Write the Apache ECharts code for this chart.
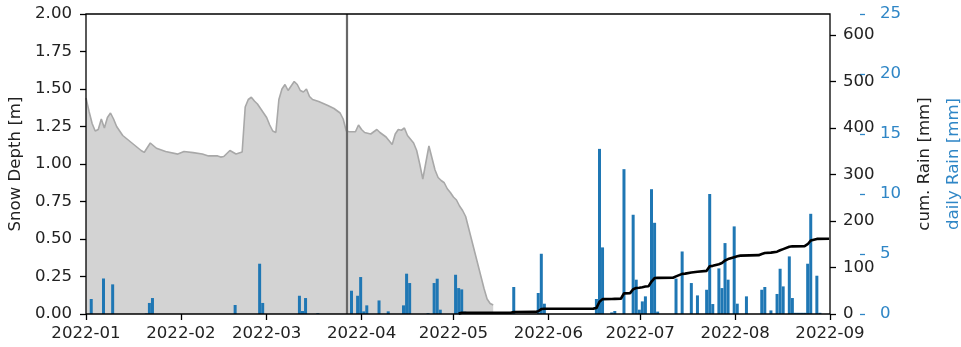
<!DOCTYPE html>
<html>
<head>
<meta charset="utf-8">
<script src="https://cdn.jsdelivr.net/npm/echarts@6/dist/echarts.min.js"></script>
<style>
html,body{margin:0;padding:0;background:#fff;}
#chart{width:961px;height:347px;}
</style>
</head>
<body>
<div id="chart"></div>
<script>
// ---------- DATA ----------
const monthTicks = ['2022-01-01','2022-02-01','2022-03-01','2022-04-01','2022-05-01','2022-06-01','2022-07-01','2022-08-01','2022-09-01'];
const snowTicks = [0, 0.25, 0.5, 0.75, 1.0, 1.25, 1.5, 1.75, 2.0];
const cumTicks = [0, 100, 200, 300, 400, 500, 600];
const dailyTicks = [0, 5, 10, 15, 20, 25];
const markerDate = '2022-03-27 06:00';

const snowDates = ['2022-01-01','2022-01-02','2022-01-03','2022-01-04','2022-01-05','2022-01-06','2022-01-07','2022-01-08','2022-01-09','2022-01-10','2022-01-11','2022-01-13','2022-01-16','2022-01-19','2022-01-20','2022-01-22','2022-01-24','2022-01-27','2022-01-31','2022-02-02','2022-02-05','2022-02-08','2022-02-10','2022-02-13','2022-02-14','2022-02-15','2022-02-17','2022-02-19','2022-02-21','2022-02-22','2022-02-23','2022-02-24','2022-02-25','2022-02-26','2022-02-27','2022-02-28','2022-03-01','2022-03-02','2022-03-03','2022-03-04','2022-03-05','2022-03-06','2022-03-07','2022-03-08','2022-03-09','2022-03-10','2022-03-11','2022-03-12','2022-03-13','2022-03-14','2022-03-15','2022-03-16','2022-03-18','2022-03-21','2022-03-23','2022-03-25','2022-03-26','2022-03-27','2022-03-28','2022-03-30','2022-03-31','2022-04-01','2022-04-02','2022-04-04','2022-04-06','2022-04-07','2022-04-09','2022-04-11','2022-04-12','2022-04-13','2022-04-14','2022-04-15','2022-04-16','2022-04-18','2022-04-19','2022-04-20','2022-04-21','2022-04-23','2022-04-24','2022-04-25','2022-04-26','2022-04-27','2022-04-28','2022-04-29','2022-04-30','2022-05-01','2022-05-02','2022-05-03','2022-05-04','2022-05-05','2022-05-06','2022-05-07','2022-05-08','2022-05-09','2022-05-10','2022-05-11','2022-05-12','2022-05-13','2022-05-14'];
const snowDepth = [1.44,1.35,1.27,1.22,1.23,1.30,1.24,1.31,1.34,1.30,1.25,1.19,1.14,1.09,1.077,1.14,1.105,1.083,1.066,1.083,1.076,1.067,1.054,1.054,1.046,1.05,1.09,1.067,1.08,1.38,1.43,1.445,1.42,1.40,1.37,1.34,1.31,1.26,1.22,1.21,1.43,1.50,1.53,1.49,1.52,1.55,1.53,1.49,1.48,1.50,1.45,1.43,1.416,1.39,1.37,1.34,1.30,1.22,1.215,1.215,1.26,1.23,1.21,1.20,1.23,1.21,1.18,1.13,1.20,1.23,1.225,1.24,1.19,1.14,1.09,1.00,0.90,1.12,1.04,0.96,0.91,0.89,0.875,0.835,0.81,0.78,0.76,0.72,0.69,0.65,0.57,0.49,0.41,0.33,0.25,0.17,0.10,0.07,0.06];

const rainDates = ['2022-01-02','2022-01-06','2022-01-09','2022-01-20','2022-01-21','2022-01-22','2022-02-18','2022-02-26','2022-02-27','2022-03-11','2022-03-12','2022-03-13','2022-03-17','2022-03-28','2022-03-30','2022-03-31','2022-04-01','2022-04-02','2022-04-06','2022-04-09','2022-04-14','2022-04-15','2022-04-16','2022-04-22','2022-04-24','2022-04-25','2022-04-26','2022-05-01','2022-05-02','2022-05-03','2022-05-04','2022-05-20','2022-05-28','2022-05-29','2022-05-30','2022-06-16','2022-06-17','2022-06-18','2022-06-21','2022-06-22','2022-06-25','2022-06-28','2022-06-29','2022-06-30','2022-07-01','2022-07-02','2022-07-04','2022-07-05','2022-07-06','2022-07-12','2022-07-14','2022-07-17','2022-07-19','2022-07-22','2022-07-23','2022-07-24','2022-07-26','2022-07-27','2022-07-28','2022-07-29','2022-07-31','2022-08-01','2022-08-04','2022-08-09','2022-08-10','2022-08-12','2022-08-14','2022-08-15','2022-08-16','2022-08-18','2022-08-19','2022-08-20','2022-08-21','2022-08-22','2022-08-23','2022-08-24','2022-08-25','2022-08-27','2022-08-28'];
const dailyRain = [1.25,2.96,2.47,0.05,0.92,1.33,0.75,4.19,0.92,1.52,0.25,1.33,0.08,1.94,1.52,3.08,0.22,0.72,1.13,0.22,0.72,3.36,2.58,0.08,2.58,2.94,0.36,3.27,2.16,2.05,0.2,2.25,1.75,5.02,0.86,1.25,13.76,5.55,0.13,0.25,12.07,8.27,2.86,0.36,1.05,1.47,10.4,7.6,0.2,2.95,5.21,2.58,1.55,2.02,10.0,0.83,3.8,2.16,5.91,2.86,7.3,0.86,1.47,2.02,2.25,0.3,1.67,3.77,2.3,4.8,1.33,0.1,0.1,0.1,0.1,4.19,8.35,3.19,0.1];

const cumDates = ['2022-05-02','2022-05-03','2022-05-19','2022-05-20','2022-05-27','2022-05-28','2022-05-29','2022-05-30','2022-06-15','2022-06-16','2022-06-17','2022-06-18','2022-06-21','2022-06-22','2022-06-24','2022-06-25','2022-06-27','2022-06-28','2022-06-29','2022-06-30','2022-07-01','2022-07-02','2022-07-03','2022-07-04','2022-07-05','2022-07-06','2022-07-11','2022-07-12','2022-07-14','2022-07-15','2022-07-17','2022-07-19','2022-07-22','2022-07-23','2022-07-24','2022-07-26','2022-07-27','2022-07-28','2022-07-29','2022-07-31','2022-08-01','2022-08-02','2022-08-08','2022-08-09','2022-08-10','2022-08-12','2022-08-14','2022-08-15','2022-08-16','2022-08-18','2022-08-19','2022-08-23','2022-08-24','2022-08-25','2022-08-27','2022-08-31'];
const cumRain = [0.8,2.6,2.8,4.4,4.5,6.0,10.6,11.3,11.5,12.7,26.4,32.0,32.2,32.6,32.8,44.3,44.8,53.2,56.0,56.5,57.6,59.0,59.5,69.8,77.3,77.6,77.9,80.8,86.2,86.8,89.2,90.8,92.8,102.5,103.5,107.0,109.5,115.0,118.0,122.0,124.0,125.5,126.5,129.0,131.0,132.0,134.0,137.0,139.5,144.5,145.5,146.0,150.0,158.0,161.5,161.7];

// ---------- HELPERS ----------
function ts(s, hours) {
  const [d, t] = s.split(' ');
  const [y, m, dd] = d.split('-').map(Number);
  let h = 0, mi = 0;
  if (t) { [h, mi] = t.split(':').map(Number); }
  return Date.UTC(y, m - 1, dd, h + (hours || 0), mi);
}
const DAY_SHIFT_H = 17; // daily totals drawn at the measured bar centres
const FONT = 'DejaVu Sans';
const FS = 16.6;
const BLUE = '#1f77b4';
const BLUE_TXT = '#2f86c6';

const snowData = snowDates.map((d, i) => [ts(d), snowDepth[i]]);
const rainData = rainDates.map((d, i) => [ts(d, DAY_SHIFT_H), dailyRain[i]]);
const cumData = cumDates.map((d, i) => [ts(d, DAY_SHIFT_H), cumRain[i]]);
const monthTs = monthTicks.map(d => ts(d));

const chart = echarts.init(document.getElementById('chart'), null, {renderer: 'canvas'});
chart.setOption({
  animation: false,
  backgroundColor: '#fff',
  textStyle: {fontFamily: FONT},
  grid: {left: 86, right: 131, top: 14, bottom: 33, outerBoundsMode: 'none', containLabel: false,
         show: true, borderColor: '#000', borderWidth: 1.3, backgroundColor: 'transparent', z: 10},
  xAxis: {
    type: 'value',
    min: monthTs[0],
    max: monthTs[monthTs.length - 1],
    axisLine: {show: false},
    splitLine: {show: false},
    axisTick: {show: true, length: 6, customValues: monthTs, lineStyle: {color: '#000', width: 1.3}},
    axisLabel: {
      customValues: monthTs,
      fontFamily: FONT, fontSize: FS, color: '#222', margin: 11,
      formatter: function (v) { const d = new Date(v); return d.getUTCFullYear() + '-' + String(d.getUTCMonth() + 1).padStart(2, '0'); }
    }
  },
  yAxis: [
    {
      type: 'value', position: 'left', min: 0, max: 2,
      name: 'Snow Depth [m]', nameLocation: 'middle', nameGap: 56,
      nameTextStyle: {fontFamily: FONT, fontSize: FS, color: '#222'},
      axisLine: {show: false}, splitLine: {show: false},
      axisTick: {show: true, length: 6, customValues: snowTicks, lineStyle: {color: '#000', width: 1.3}},
      axisLabel: {customValues: snowTicks, fontFamily: FONT, fontSize: FS, color: '#222', margin: 14, formatter: v => v.toFixed(2)}
    },
    {
      type: 'value', position: 'right', min: 0, max: 645, offset: 0,
      name: 'cum. Rain [mm]', nameLocation: 'middle', nameGap: 86,
      nameTextStyle: {fontFamily: FONT, fontSize: FS, color: '#222'},
      axisLine: {show: false}, splitLine: {show: false},
      axisTick: {show: true, length: 6, customValues: cumTicks, lineStyle: {color: '#000', width: 1.3}},
      axisLabel: {customValues: cumTicks, fontFamily: FONT, fontSize: FS, color: '#222', margin: 13}
    },
    {
      type: 'value', position: 'right', min: 0, max: 25, offset: 35,
      name: 'daily Rain [mm]', nameLocation: 'middle', nameGap: 80,
      nameTextStyle: {fontFamily: FONT, fontSize: FS, color: BLUE_TXT},
      axisLine: {show: false}, splitLine: {show: false},
      axisTick: {show: true, inside: true, length: 5, customValues: dailyTicks, lineStyle: {color: BLUE_TXT, width: 1.3}},
      axisLabel: {customValues: dailyTicks, fontFamily: FONT, fontSize: FS, color: BLUE_TXT, margin: 15}
    }
  ],
  series: [
    {
      name: 'Snow Depth', type: 'line', yAxisIndex: 0, data: snowData, z: 1,
      showSymbol: false, symbol: 'none',
      lineStyle: {color: '#a8a8a8', width: 1.6},
      areaStyle: {color: '#d3d3d3', opacity: 1},
      markLine: {
        silent: true, symbol: ['none', 'none'], label: {show: false},
        lineStyle: {color: '#686868', width: 2.2, type: 'solid'},
        data: [{xAxis: ts(markerDate)}]
      }
    },
    {
      name: 'daily Rain', type: 'bar', yAxisIndex: 2, data: rainData, z: 3,
      barWidth: 3, itemStyle: {color: BLUE}
    },
    {
      name: 'cum. Rain', type: 'line', yAxisIndex: 1, data: cumData, z: 4,
      showSymbol: false, symbol: 'none',
      lineStyle: {color: '#000', width: 2.6}
    }
  ]
});
</script>
</body>
</html>
